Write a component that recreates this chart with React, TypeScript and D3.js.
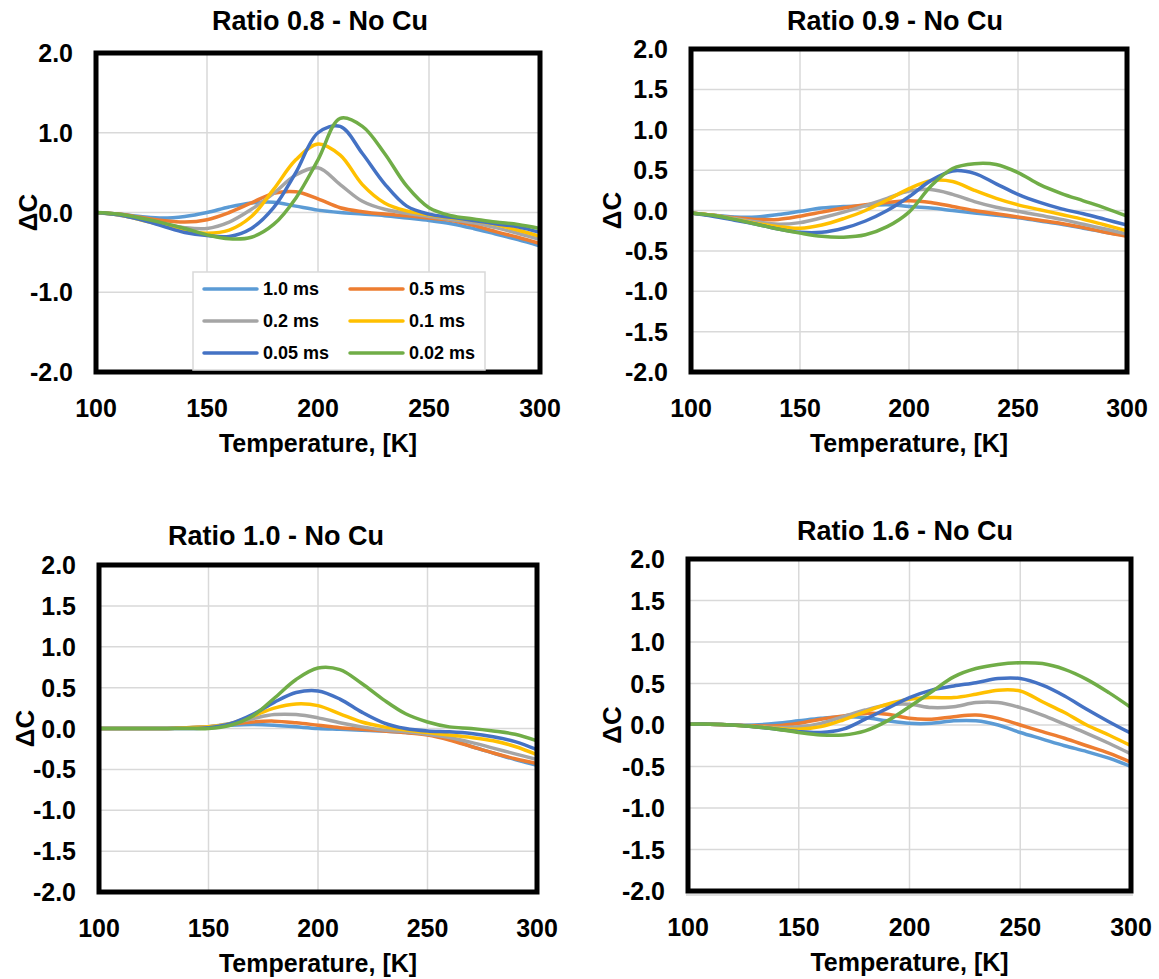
import React from 'react';
import * as d3 from 'd3';

// ---------- data ----------
const TEMPS = [100, 110, 120, 130, 140, 150, 160, 170, 180, 190, 200, 210, 220, 230, 240, 250, 260, 270, 280, 290, 300];
const SERIES_NAMES = ['1.0 ms', '0.5 ms', '0.2 ms', '0.1 ms', '0.05 ms', '0.02 ms'];
const SERIES_COLORS = ['#5B9BD5', '#ED7D31', '#A5A5A5', '#FFC000', '#4472C4', '#70AD47'];
const X_TICKS = [100, 150, 200, 250, 300];
const Y_TICKS_COARSE = [-2, -1, 0, 1, 2];
const Y_TICKS_FINE = [-2, -1.5, -1, -0.5, 0, 0.5, 1, 1.5, 2];
const TITLES = ['Ratio 0.8 - No Cu', 'Ratio 0.9 - No Cu', 'Ratio 1.0 - No Cu', 'Ratio 1.6 - No Cu'];
const X_LABEL = 'Temperature, [K]';
const Y_LABEL = 'ΔC';

// Ratio 0.8
const R08_10 = [0, -0.02, -0.05, -0.07, -0.05, 0.0, 0.07, 0.12, 0.13, 0.08, 0.03, 0.0, -0.02, -0.04, -0.07, -0.1, -0.14, -0.2, -0.27, -0.34, -0.42];
const R08_05 = [0, -0.02, -0.06, -0.1, -0.12, -0.09, 0.0, 0.12, 0.24, 0.26, 0.17, 0.06, 0.01, -0.02, -0.04, -0.07, -0.1, -0.16, -0.24, -0.31, -0.39];
const R08_02 = [0, -0.03, -0.08, -0.14, -0.19, -0.2, -0.12, 0.04, 0.24, 0.47, 0.56, 0.35, 0.14, 0.04, -0.01, -0.05, -0.09, -0.13, -0.19, -0.26, -0.34];
const R08_01 = [0, -0.03, -0.09, -0.16, -0.23, -0.26, -0.22, -0.05, 0.29, 0.66, 0.86, 0.72, 0.35, 0.12, 0.02, -0.03, -0.07, -0.1, -0.15, -0.22, -0.3];
const R08_005 = [0, -0.03, -0.09, -0.17, -0.25, -0.29, -0.3, -0.2, 0.06, 0.5, 1.0, 1.08, 0.74, 0.36, 0.08, -0.02, -0.06, -0.1, -0.14, -0.18, -0.25];
const R08_002 = [0, -0.02, -0.07, -0.13, -0.2, -0.28, -0.33, -0.31, -0.15, 0.18, 0.66, 1.18, 1.08, 0.74, 0.33, 0.06, -0.04, -0.08, -0.12, -0.15, -0.2];

// Ratio 0.9
const R09_10 = [-0.03, -0.06, -0.08, -0.08, -0.05, -0.01, 0.03, 0.05, 0.06, 0.07, 0.05, 0.03, 0.0, -0.03, -0.06, -0.09, -0.13, -0.17, -0.22, -0.27, -0.31];
const R09_05 = [-0.03, -0.06, -0.09, -0.11, -0.11, -0.07, -0.02, 0.03, 0.07, 0.1, 0.12, 0.1, 0.05, 0.0, -0.04, -0.08, -0.12, -0.16, -0.21, -0.27, -0.32];
const R09_02 = [-0.03, -0.06, -0.1, -0.14, -0.17, -0.15, -0.09, -0.02, 0.06, 0.15, 0.24, 0.26, 0.2, 0.11, 0.04, -0.01, -0.06, -0.11, -0.17, -0.23, -0.29];
const R09_01 = [-0.03, -0.06, -0.11, -0.16, -0.2, -0.22, -0.18, -0.1, 0.0, 0.13, 0.27, 0.37, 0.36, 0.25, 0.15, 0.07, 0.01, -0.05, -0.11, -0.18, -0.25];
const R09_005 = [-0.03, -0.07, -0.12, -0.17, -0.23, -0.27, -0.27, -0.22, -0.13, 0.0, 0.17, 0.37, 0.49, 0.46, 0.33, 0.2, 0.1, 0.02, -0.04, -0.11, -0.18];
const R09_002 = [-0.03, -0.06, -0.11, -0.17, -0.23, -0.28, -0.32, -0.33, -0.3, -0.2, -0.02, 0.3, 0.52, 0.58, 0.57, 0.47, 0.32, 0.21, 0.12, 0.03, -0.07];

// Ratio 1.0
const R10_10 = [0, 0, 0, 0, 0.01, 0.02, 0.04, 0.05, 0.04, 0.02, 0.0, -0.01, -0.02, -0.03, -0.05, -0.07, -0.13, -0.22, -0.3, -0.38, -0.45];
const R10_05 = [0, 0, 0, 0, 0.01, 0.02, 0.05, 0.08, 0.09, 0.07, 0.04, 0.01, -0.01, -0.03, -0.05, -0.08, -0.14, -0.22, -0.3, -0.37, -0.43];
const R10_02 = [0, 0, 0, 0, 0.01, 0.02, 0.06, 0.12, 0.17, 0.17, 0.13, 0.07, 0.02, -0.02, -0.04, -0.07, -0.11, -0.17, -0.24, -0.31, -0.38];
const R10_01 = [0, 0, 0, 0, 0.01, 0.02, 0.06, 0.15, 0.25, 0.3, 0.28, 0.18, 0.08, 0.02, -0.02, -0.05, -0.08, -0.11, -0.15, -0.22, -0.32];
const R10_005 = [0, 0, 0, 0, 0.0, 0.01, 0.06, 0.17, 0.32, 0.44, 0.46, 0.36, 0.2, 0.07, 0.0, -0.03, -0.04, -0.06, -0.1, -0.16, -0.26];
const R10_002 = [0, 0, 0, 0, 0.0, 0.0, 0.04, 0.15, 0.37, 0.6, 0.74, 0.72, 0.55, 0.35, 0.18, 0.08, 0.02, 0.0, -0.03, -0.07, -0.15];

// Ratio 1.6
const R16_10 = [0.01, 0.01, 0.0, 0.0, 0.02, 0.05, 0.08, 0.1, 0.09, 0.05, 0.02, 0.02, 0.05, 0.05, 0.0, -0.09, -0.17, -0.25, -0.32, -0.4, -0.5];
const R16_05 = [0.01, 0.01, 0.0, -0.01, -0.01, 0.02, 0.07, 0.11, 0.14, 0.13, 0.08, 0.07, 0.1, 0.12, 0.08, 0.0, -0.08, -0.16, -0.25, -0.34, -0.45];
const R16_02 = [0.01, 0.01, 0.0, -0.02, -0.03, -0.02, 0.02, 0.1, 0.18, 0.24, 0.25, 0.21, 0.22, 0.27, 0.27, 0.21, 0.12, 0.01, -0.1, -0.22, -0.35];
const R16_01 = [0.01, 0.01, 0.0, -0.02, -0.04, -0.05, -0.02, 0.06, 0.16, 0.25, 0.31, 0.33, 0.33, 0.37, 0.42, 0.41, 0.28, 0.15, 0.0, -0.12, -0.25];
const R16_005 = [0.01, 0.01, 0.0, -0.02, -0.05, -0.08, -0.09, -0.05, 0.07, 0.2, 0.33, 0.42, 0.47, 0.51, 0.56, 0.56, 0.48, 0.35, 0.19, 0.04, -0.1];
const R16_002 = [0.01, 0.01, 0.0, -0.02, -0.05, -0.09, -0.12, -0.12, -0.07, 0.05, 0.22, 0.4, 0.58, 0.68, 0.73, 0.75, 0.74, 0.67, 0.55, 0.39, 0.21];

const PANEL_SERIES = [
  [R08_10, R08_05, R08_02, R08_01, R08_005, R08_002],
  [R09_10, R09_05, R09_02, R09_01, R09_005, R09_002],
  [R10_10, R10_05, R10_02, R10_01, R10_005, R10_002],
  [R16_10, R16_05, R16_02, R16_01, R16_005, R16_002],
];

// ---------- layout ----------
const W = 1159;
const H = 979;
const PANELS = [
  { left: 96, right: 540, top: 53, bottom: 372, fine: false, titleX: 320, titleY: 30, yLabX: 28, legend: true, doubleBottom: false },
  { left: 691, right: 1127, top: 49, bottom: 372, fine: true, titleX: 895, titleY: 30, yLabX: 612, legend: false, doubleBottom: false },
  { left: 99, right: 537, top: 565, bottom: 892, fine: true, titleX: 276, titleY: 545, yLabX: 25, legend: false, doubleBottom: false },
  { left: 688, right: 1131, top: 559, bottom: 891, fine: true, titleX: 905, titleY: 540, yLabX: 612, legend: false, doubleBottom: true },
];

const FONT = '"Liberation Sans", Arial, sans-serif';
const TICK_SIZE = 25;
const AXIS_TITLE_SIZE = 25;
const TITLE_SIZE = 27;

function Panel({ idx }: { idx: number }) {
  const p = PANELS[idx];
  const x = d3.scaleLinear().domain([100, 300]).range([p.left, p.right]);
  const y = d3.scaleLinear().domain([-2, 2]).range([p.bottom, p.top]);
  const yTicks = p.fine ? Y_TICKS_FINE : Y_TICKS_COARSE;
  const line = d3
    .line<number>()
    .x((_, i) => x(TEMPS[i]))
    .y((d) => y(d))
    .curve(d3.curveCatmullRom.alpha(0.5));
  const clipId = `clip${idx}`;
  const midX = (p.left + p.right) / 2;
  const lx0 = 193, ly0 = 272, lw = 292, lh = 98;
  return (
    <g>
      <defs>
        <clipPath id={clipId}>
          <rect x={p.left} y={p.top} width={p.right - p.left} height={p.bottom - p.top} />
        </clipPath>
      </defs>
      {X_TICKS.slice(1, -1).map((t) => (
        <line key={'gx' + t} x1={x(t)} x2={x(t)} y1={p.top} y2={p.bottom} stroke="#d9d9d9" strokeWidth={1.5} />
      ))}
      {yTicks.slice(1, -1).map((t) => (
        <line key={'gy' + t} x1={p.left} x2={p.right} y1={y(t)} y2={y(t)} stroke="#d9d9d9" strokeWidth={1.5} />
      ))}
      <g clipPath={`url(#${clipId})`}>
        {PANEL_SERIES[idx].map((s, i) => (
          <path key={i} d={line(s) || ''} fill="none" stroke={SERIES_COLORS[i]} strokeWidth={3.5} strokeLinejoin="round" strokeLinecap="round" />
        ))}
      </g>
      <rect x={p.left} y={p.top} width={p.right - p.left} height={p.bottom - p.top} fill="none" stroke="#000" strokeWidth={5} />
      {p.doubleBottom && (
        <line x1={p.left - 2} x2={p.right + 2} y1={p.bottom + 4} y2={p.bottom + 4} stroke="#bfbfbf" strokeWidth={1} />
      )}
      {yTicks.map((t) => (
        <text key={'yl' + t} x={p.left - 23} y={y(t)} dy="0.36em" textAnchor="end" fontFamily={FONT} fontWeight="bold" fontSize={TICK_SIZE} fill="#000">
          {d3.format('.1f')(t).replace('−', '-')}
        </text>
      ))}
      {X_TICKS.map((t) => (
        <text key={'xl' + t} x={x(t)} y={p.bottom + 45} textAnchor="middle" fontFamily={FONT} fontWeight="bold" fontSize={TICK_SIZE} fill="#000">
          {t}
        </text>
      ))}
      <text x={midX} y={p.bottom + 80} textAnchor="middle" fontFamily={FONT} fontWeight="bold" fontSize={AXIS_TITLE_SIZE} fill="#000">
        {X_LABEL}
      </text>
      <text
        transform={`translate(${p.yLabX},${y(0)}) rotate(-90)`}
        textAnchor="middle"
        dy="0.36em"
        fontFamily={FONT}
        fontWeight="bold"
        fontSize={26}
        fill="#000"
      >
        {Y_LABEL}
      </text>
      <text x={p.titleX} y={p.titleY} textAnchor="middle" fontFamily={FONT} fontWeight="bold" fontSize={TITLE_SIZE} fill="#000">
        {TITLES[idx]}
      </text>
      {p.legend && (
        <g>
          <rect x={lx0} y={ly0} width={lw} height={lh} fill="#fff" stroke="#d9d9d9" strokeWidth={1.5} />
          {SERIES_NAMES.map((n, i) => {
            const col = i % 2;
            const row = Math.floor(i / 2);
            const sx = lx0 + 11 + col * 146;
            const sy = ly0 + 17 + row * 32;
            return (
              <g key={n}>
                <line x1={sx} x2={sx + 53} y1={sy} y2={sy} stroke={SERIES_COLORS[i]} strokeWidth={3.5} strokeLinecap="round" />
                <text x={sx + 59} y={sy} dy="0.36em" fontFamily={FONT} fontWeight="bold" fontSize={18} fill="#000">
                  {n}
                </text>
              </g>
            );
          })}
        </g>
      )}
    </g>
  );
}

export default function App() {
  return (
    <svg width={W} height={H} style={{ position: 'absolute', left: 0, top: 0, background: '#fff' }}>
      <rect width={W} height={H} fill="#fff" />
      {PANELS.map((_, i) => (
        <Panel key={i} idx={i} />
      ))}
    </svg>
  );
}
